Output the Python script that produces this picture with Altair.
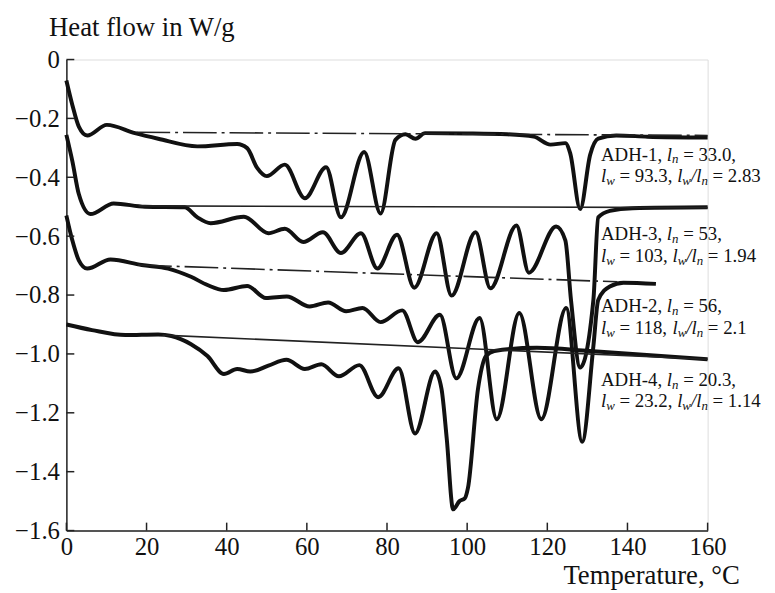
import altair as alt
import pandas as pd

# ---------------- data ----------------
adh1_t = [0, 1.5, 3.1, 5.2, 10.1, 17.1, 22.9, 32.7, 42.6, 45.1, 47.6, 50.0, 54.5, 59.5, 64.8,
          68.5, 74.3, 78.4, 82.1, 84.6, 87.1, 89.5, 100, 110, 116.6, 120.8, 124.5, 125.7,
          128.2, 130.7, 132.7, 137.2, 145, 160]
adh1_h = [-0.071, -0.155, -0.228, -0.258, -0.222, -0.250, -0.269, -0.295, -0.287, -0.301,
          -0.368, -0.396, -0.357, -0.471, -0.366, -0.536, -0.314, -0.523, -0.273, -0.254,
          -0.269, -0.250, -0.251, -0.254, -0.262, -0.289, -0.284, -0.318, -0.508, -0.323,
          -0.269, -0.258, -0.262, -0.265]

adh3_t = [0, 1.5, 3.1, 6.0, 11.8, 19.6, 29.5, 32.7, 36.0, 44.3, 50.4, 54.5, 59.1, 64.0, 68.5,
          73.5, 77.6, 82.5, 86.8, 92.4, 96.1, 102.1, 105.8, 112.3, 115.4, 122.2, 124.5, 125.9,
          128.2, 131.5, 132.7, 135.6, 141.3, 160]
adh3_h = [-0.256, -0.346, -0.457, -0.525, -0.489, -0.500, -0.502, -0.536, -0.556, -0.534,
          -0.590, -0.575, -0.620, -0.587, -0.657, -0.590, -0.710, -0.595, -0.775, -0.590,
          -0.802, -0.587, -0.777, -0.564, -0.724, -0.567, -0.614, -0.816, -1.046, -0.816,
          -0.536, -0.514, -0.505, -0.502]

adh2_t = [0, 1.5, 3.1, 5.2, 11.0, 18.8, 25.4, 31.1, 35.2, 39.3, 45.1, 49.8, 55.0, 60.7, 65.3,
          69.8, 73.9, 78.4, 83.8, 87.7, 93.2, 97.3, 103.1, 107.4, 113.0, 118.5, 124.7, 128.7,
          131.5, 132.7, 135.6, 139.0, 147.1]
adh2_h = [-0.530, -0.615, -0.682, -0.710, -0.679, -0.698, -0.710, -0.738, -0.766, -0.783,
          -0.769, -0.810, -0.805, -0.839, -0.825, -0.855, -0.844, -0.892, -0.852, -0.960,
          -0.867, -1.083, -0.878, -1.222, -0.861, -1.222, -0.844, -1.298, -0.973, -0.817,
          -0.771, -0.758, -0.762]

adh4_t = [0, 6.4, 14.7, 22.9, 26.2, 31.1, 35.2, 39.3, 42.6, 45.9, 50.4, 54.9, 59.5, 63.6, 68.0,
          73.1, 77.8, 82.9, 87.0, 92.0, 93.6, 94.9, 96.5, 98.1, 99.4, 100.2, 102.7, 104.7,
          106.8, 117.4, 130.6, 160]
adh4_h = [-0.900, -0.919, -0.936, -0.934, -0.939, -0.967, -1.007, -1.068, -1.051, -1.060,
          -1.040, -1.020, -1.051, -1.035, -1.076, -1.038, -1.147, -1.049, -1.270, -1.060,
          -1.119, -1.287, -1.528, -1.500, -1.491, -1.455, -1.119, -1.007, -0.990, -0.979,
          -0.990, -1.018]

# baselines
base1_t = [17.5, 160]
base1_h = [-0.247, -0.258]
base3_t = [18.0, 160]
base3_h = [-0.497, -0.503]
base2_t = [17.9, 137.5]
base2_h = [-0.698, -0.755]
base4_t = [24.0, 160]
base4_h = [-0.936, -1.018]

x_ticks = [0, 20, 40, 60, 80, 100, 120, 140, 160]
y_ticks = [0, -0.2, -0.4, -0.6, -0.8, -1.0, -1.2, -1.4, -1.6]

label_names = ["ADH-1", "ADH-3", "ADH-2", "ADH-4"]
label_ln = ["33.0", "53", "56", "20.3"]
label_lw = ["93.3", "103", "118", "23.2"]
label_ratio = ["2.83", "1.94", "2.1", "1.14"]
label_t = 133.4
label_h = [-0.343, -0.614, -0.859, -1.108]
line_gap = 0.073

# ---------------- layout ----------------
W, H = 648, 476
PX = W / 160.0
FONT = "Liberation Serif"
FS = 19
SUB = 13

# Times metrics (1/1000 em)
REG = {" ": 250, ",": 250, "-": 333, ".": 250, "/": 278, "=": 564, "A": 722,
       "D": 722, "H": 722, "l": 278, "n": 500, "w": 722}
ITA = {" ": 250, "l": 278, "n": 500, "w": 667, "/": 278}


def width(text, style):
    size = SUB if style == "s" else FS
    table = REG if style == "r" else ITA
    return sum(table.get(c, 500) for c in text) * size / 1000.0


segs = []
for i, nm in enumerate(label_names):
    line1 = [(nm + ", ", "r"), ("l", "i"), ("n", "s"), (" = " + label_ln[i] + ",", "r")]
    line2 = [("l", "i"), ("w", "s"), (" = " + label_lw[i] + ", ", "r"), ("l", "i"),
             ("w", "s"), ("/", "i"), ("l", "i"), ("n", "s"), (" = " + label_ratio[i], "r")]
    for k, line in enumerate([line1, line2]):
        off = 0.0
        for txt, st in line:
            lead = len(txt) - len(txt.lstrip(" "))
            start = off + width(" " * lead, st)
            segs.append({"T": label_t + start / PX, "H": label_h[i] - k * line_gap,
                         "txt": txt.strip(" "), "st": st})
            off += width(txt, st)
segdf = pd.DataFrame(segs)


def mk(name, t, h):
    return pd.DataFrame({"T": t, "H": h, "s": name})


curves = pd.concat([mk("ADH-1", adh1_t, adh1_h), mk("ADH-3", adh3_t, adh3_h),
                    mk("ADH-2", adh2_t, adh2_h), mk("ADH-4", adh4_t, adh4_h)])
solid_base = pd.concat([mk("b3", base3_t, base3_h), mk("b4", base4_t, base4_h)])
dash_base = pd.concat([mk("b1", base1_t, base1_h), mk("b2", base2_t, base2_h)])

xs = alt.Scale(domain=[0, 160], nice=False, zero=False)
ys = alt.Scale(domain=[-1.6, 0], nice=False, zero=False)

x_axis = alt.Axis(values=x_ticks, ticks=False, grid=False, domainColor="#222", domainWidth=1.5,
                  labelFont=FONT, labelFontSize=25, labelColor="#111", labelPadding=4,
                  labelFlush=False, title="Temperature, °C", titleFont=FONT,
                  titleFontSize=27, titleFontWeight="normal", titleColor="#111",
                  titleAlign="right", titleAnchor="start", titleX=680, titleY=53,
                  titleBaseline="alphabetic")
y_axis = alt.Axis(values=y_ticks, ticks=False, grid=False, domainColor="#222", domainWidth=1.5,
                  labelFont=FONT, labelFontSize=25, labelColor="#111", labelPadding=7,
                  labelFlush=False,
                  labelExpr="datum.value == 0 ? '0' : format(datum.value, '.1f')",
                  title="Heat flow in W/g", titleFont=FONT, titleFontSize=27,
                  titleFontWeight="normal", titleColor="#111", titleAngle=0,
                  titleAlign="left", titleAnchor="start", titleX=-18, titleY=-24,
                  titleBaseline="alphabetic")

base = alt.Chart(curves)
curve_layer = base.mark_line(color="#111", strokeWidth=4, interpolate="monotone").encode(
    x=alt.X("T:Q", scale=xs, axis=x_axis),
    y=alt.Y("H:Q", scale=ys, axis=y_axis),
    detail="s:N",
)
solid_layer = alt.Chart(solid_base).mark_line(color="#222", strokeWidth=1.6).encode(
    x=alt.X("T:Q", scale=xs), y=alt.Y("H:Q", scale=ys), detail="s:N")
dash_layer = alt.Chart(dash_base).mark_line(color="#222", strokeWidth=1.6,
                                           strokeDash=[34, 5, 3, 5]).encode(
    x=alt.X("T:Q", scale=xs), y=alt.Y("H:Q", scale=ys), detail="s:N")

ytick_df = pd.DataFrame({"v": y_ticks})
xtick_df = pd.DataFrame({"v": x_ticks})
ytick_layer = alt.Chart(ytick_df).mark_rule(color="#222", strokeWidth=1.5).encode(
    y=alt.Y("v:Q", scale=ys), x=alt.value(0), x2=alt.value(8))
xtick_layer = alt.Chart(xtick_df).mark_rule(color="#222", strokeWidth=1.5).encode(
    x=alt.X("v:Q", scale=xs), y=alt.value(H), y2=alt.value(H - 8))

reg_layer = alt.Chart(segdf).transform_filter("datum.st == 'r'").mark_text(
    align="left", baseline="alphabetic", font=FONT, fontSize=FS, color="#111").encode(
    x=alt.X("T:Q", scale=xs), y=alt.Y("H:Q", scale=ys), text="txt:N")
ita_layer = alt.Chart(segdf).transform_filter("datum.st == 'i'").mark_text(
    align="left", baseline="alphabetic", font=FONT, fontSize=FS, fontStyle="italic",
    color="#111").encode(
    x=alt.X("T:Q", scale=xs), y=alt.Y("H:Q", scale=ys), text="txt:N")
sub_layer = alt.Chart(segdf).transform_filter("datum.st == 's'").mark_text(
    align="left", baseline="alphabetic", font=FONT, fontSize=SUB, fontStyle="italic",
    dy=3, color="#111").encode(
    x=alt.X("T:Q", scale=xs), y=alt.Y("H:Q", scale=ys), text="txt:N")

chart = alt.layer(curve_layer, solid_layer, dash_layer, ytick_layer, xtick_layer,
                  reg_layer, ita_layer, sub_layer).properties(
    width=W, height=H,
    autosize=alt.AutoSizeParams(type="none"),
    padding={"left": 59, "top": 49, "right": 60, "bottom": 58},
).configure_view(stroke=None).configure(background="white")

chart.save("out.html", embed_options={"renderer": "svg", "actions": False})
